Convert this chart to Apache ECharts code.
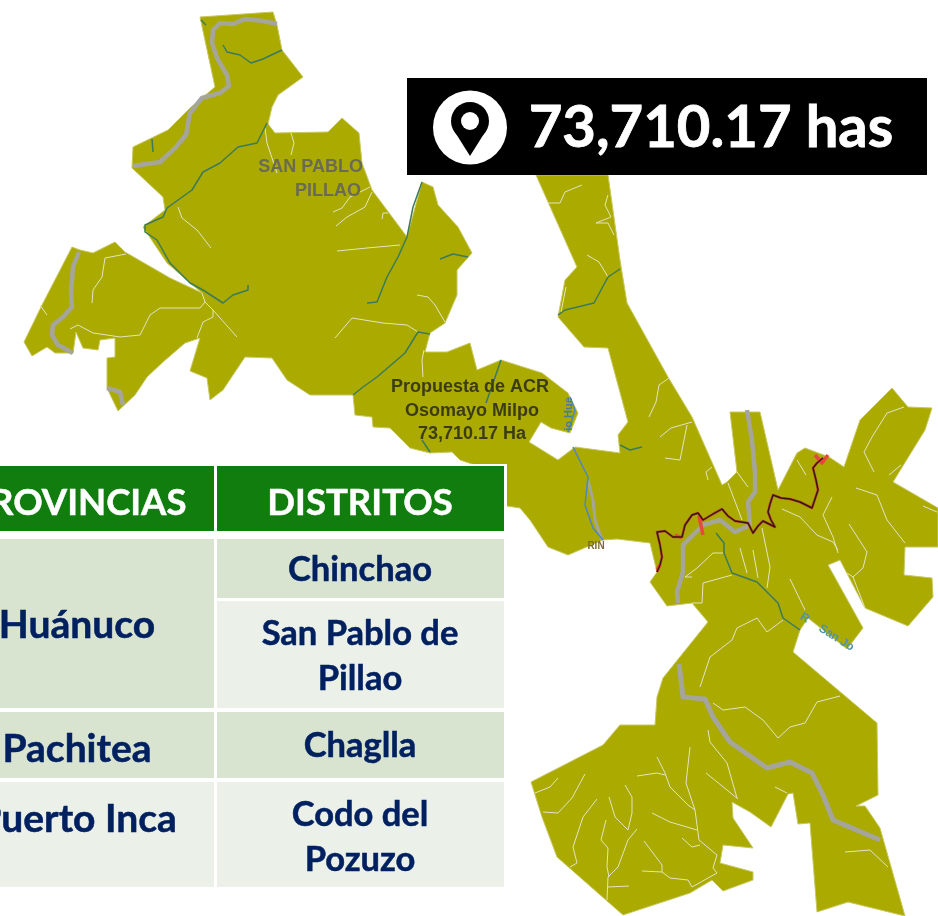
<!DOCTYPE html>
<html>
<head>
<meta charset="utf-8">
<style>html,body{margin:0;padding:0;background:#fff}#chart{width:938px;height:916px}</style>
<script src="https://cdn.jsdelivr.net/npm/echarts@6/dist/echarts.min.js"></script>
</head>
<body>
<div id="chart"></div>
<script>
var areaLabel = "73,710.17 has";
var tableHeader = ["PROVINCIAS", "DISTRITOS"];
var provincias = ["Huánuco", "Pachitea", "Puerto Inca"];
var distritos = ["Chinchao", "San Pablo de\nPillao", "Chaglla", "Codo del\nPozuzo"];

// region outline (x, y in image pixels)
var outline = [[200,17],[273,12],[277,25],[282,50],[303,77],[278,95],[272,107],[268,124],[275,133],[328,132],[342,118],[359,133],[362,163],[372,190],[407,237],[422,182],[433,187],[438,205],[458,227],[472,253],[457,270],[457,295],[445,323],[430,333],[425,352],[447,352],[470,343],[477,370],[501,360],[542,373],[568,393],[578,413],[570,433],[551,428],[541,422],[529,442],[558,460],[575,447],[620,453],[618,435],[628,422],[608,348],[584,347],[558,317],[565,280],[577,267],[536,175],[608,175],[620,260],[627,303],[668,377],[692,417],[722,485],[727,482],[737,472],[730,412],[760,412],[778,490],[797,453],[805,448],[829,457],[844,467],[860,420],[892,388],[908,407],[932,408],[925,430],[893,482],[938,508],[938,547],[905,547],[904,575],[932,578],[933,597],[908,626],[865,608],[840,560],[828,565],[863,628],[847,649],[808,618],[800,630],[793,652],[877,723],[878,795],[856,806],[865,806],[880,828],[905,916],[848,902],[817,912],[810,823],[798,824],[793,793],[788,794],[771,827],[750,812],[732,802],[733,818],[753,848],[723,845],[720,863],[753,872],[753,880],[723,891],[712,880],[690,893],[623,915],[557,857],[542,817],[531,782],[603,745],[620,725],[655,725],[657,697],[663,678],[708,622],[692,603],[667,606],[650,582],[657,572],[650,543],[617,539],[603,540],[568,555],[548,547],[530,520],[520,508],[500,505],[475,465],[460,460],[452,452],[430,453],[410,448],[390,428],[373,427],[372,417],[355,415],[353,395],[310,395],[287,380],[272,358],[245,357],[223,390],[210,400],[207,378],[190,371],[200,338],[185,343],[163,362],[147,377],[135,395],[118,411],[107,388],[107,358],[115,357],[115,338],[100,340],[98,350],[83,348],[76,332],[73,353],[55,353],[47,347],[32,356],[24,342],[42,305],[72,247],[80,250],[93,253],[115,242],[125,252],[170,278],[202,293],[167,263],[143,227],[165,210],[163,197],[132,168],[133,147],[168,130],[190,108],[215,87]];

var greyRivers = [
  [[277,24],[263,21],[245,19],[233,24],[220,23],[213,30],[212,43],[217,58],[227,75],[229,86],[220,93],[202,98],[190,113],[186,135],[175,148],[160,162],[133,166]],
  [[79,252],[73,267],[71,293],[72,307],[63,317],[53,325],[52,335],[58,345],[73,353]],
  [[107,388],[120,392],[123,405]],
  [[747,410],[752,440],[755,473],[755,492],[748,502],[750,525],[735,532],[720,520],[703,525],[683,545],[683,572],[677,592],[678,603]],
  [[588,480],[593,500],[595,520],[602,540]],
  [[679,664],[683,697],[705,699],[713,717],[730,742],[767,768],[790,762],[812,773],[823,795],[833,820],[880,840]]
];
var greenRivers = [
  [[223,45],[227,52],[240,55],[251,63],[263,59],[282,50]],
  [[201,20],[206,25]],
  [[152,139],[153,152]],
  [[267,123],[257,143],[238,147],[220,163],[203,172],[192,190],[167,208],[163,217],[145,225],[145,232],[157,240],[170,263],[190,283],[203,290],[223,303],[233,295],[248,290],[248,285]],
  [[422,182],[413,207],[407,237],[398,257],[387,277],[377,302],[367,303]],
  [[440,259],[453,254],[468,257]],
  [[430,334],[418,332],[405,353],[377,377],[363,387],[353,395]],
  [[422,440],[430,452]],
  [[620,269],[608,277],[594,303],[565,310],[558,315]],
  [[501,360],[486,403]],
  [[620,445],[630,450],[642,447]],
  [[716,533],[724,543],[724,553],[732,573],[757,582],[778,603],[783,618],[800,630]]
];
var blueRivers = [
  [[573,447],[588,477],[585,505],[593,528],[603,540]],
  [[570,397],[575,410],[568,432]]
];
var whiteRivers = [
  [[265,128],[267,143],[277,173]],
  [[291,133],[294,143],[291,155]],
  [[370,187],[350,197],[342,208],[333,212]],
  [[372,192],[365,207],[347,217],[336,226]],
  [[388,213],[383,213],[382,219]],
  [[337,251],[367,248],[400,245]],
  [[178,207],[182,218],[197,230],[211,248]],
  [[126,254],[105,258],[102,277],[93,290],[92,303]],
  [[40,305],[47,315]],
  [[70,329],[78,325],[93,333],[107,335],[120,337],[140,335],[150,315],[160,308],[200,308],[205,302],[202,293]],
  [[205,302],[213,310],[237,337]],
  [[213,310],[213,317],[203,322],[197,338]],
  [[417,295],[428,297],[435,305],[445,322]],
  [[335,338],[352,318],[383,323],[407,325],[418,332]],
  [[424,350],[422,360],[423,377]],
  [[582,185],[565,192],[560,203],[548,203]],
  [[608,195],[605,205],[611,217],[596,223],[608,223],[614,235]],
  [[587,255],[599,262],[608,277]],
  [[566,287],[561,312]],
  [[669,378],[659,385],[656,402],[649,417]],
  [[692,422],[671,428],[660,437]],
  [[687,425],[680,460],[665,458]],
  [[712,467],[706,472],[708,480]],
  [[904,407],[887,413],[872,437],[864,452],[874,472]],
  [[901,465],[889,475]],
  [[728,483],[742,520]],
  [[737,472],[748,487]],
  [[797,460],[806,475]],
  [[856,488],[877,495],[887,520],[905,543]],
  [[937,512],[923,506]],
  [[782,509],[800,517],[817,535],[833,542],[838,550]],
  [[832,497],[823,515],[833,537],[838,553]],
  [[849,524],[867,552],[863,568],[853,577],[865,608]],
  [[847,573],[853,577]],
  [[762,528],[770,567],[767,588]],
  [[740,548],[747,573]],
  [[753,550],[758,578]],
  [[790,579],[805,610]],
  [[723,553],[713,553],[697,568],[685,577],[692,577]],
  [[732,575],[703,583],[702,603],[692,603]],
  [[700,687],[710,657],[732,640],[737,628],[757,618],[767,632],[783,620]],
  [[713,703],[723,710],[745,707],[763,720],[778,738],[790,727],[805,723],[817,702],[840,696]],
  [[708,730],[710,742],[727,763],[737,798]],
  [[775,787],[787,793]],
  [[845,852],[870,850],[888,867]],
  [[535,793],[550,787],[558,778]],
  [[543,812],[558,813],[572,798],[585,774]],
  [[597,799],[583,817],[573,847],[577,863],[570,867]],
  [[609,797],[615,817],[628,830],[632,813],[632,797],[625,785]],
  [[637,829],[628,840],[618,867],[608,877],[607,900]],
  [[606,820],[601,840],[608,848],[607,867],[609,877]],
  [[608,887],[629,886]],
  [[657,757],[665,773],[670,787],[688,805],[695,810]],
  [[637,776],[657,773],[665,775]],
  [[690,747],[686,783],[695,810],[699,840],[717,855],[713,868],[717,873],[692,887]],
  [[652,813],[670,822],[697,830]],
  [[682,838],[692,847],[700,845]],
  [[644,841],[662,865],[662,872],[670,878],[688,880],[692,887]],
  [[642,871],[662,872]],
  [[706,773],[727,790],[738,799]]
];
var boundary = [[657,572],[660,565],[662,557],[660,545],[657,532],[665,531],[673,537],[682,537],[685,525],[692,515],[698,513],[703,520],[713,514],[722,509],[728,516],[735,521],[748,523],[753,533],[758,526],[763,521],[775,527],[771,520],[768,512],[770,504],[773,495],[781,498],[790,499],[800,502],[812,508],[815,499],[818,490],[816,480],[813,468],[817,463],[823,458]];
var boundaryRed = [
  [[657,570],[660,565]],
  [[675,535],[682,538]],
  [[699,516],[703,535]],
  [[815,455],[822,463],[828,455]]
];

function lineSeries(name, rows, color, width) {
  return rows.map(function (r) {
    return {
      name: name, type: "line", data: r, showSymbol: false, silent: true, animation: false, z: 3,
      lineStyle: { color: color, width: width, cap: "butt", join: "round" }
    };
  });
}

var series = [ {
  name: "area", type: "custom", data: outline, silent: true, animation: false, z: 2,
  renderItem: function (params, api) {
    if (params.dataIndex !== 0) return null;
    return {
      type: "polygon",
      shape: { points: outline.map(function (p) { return api.coord(p); }) },
      style: { fill: "#aaaa00", stroke: "#c8c860", lineWidth: 1 }
    };
  }
} ];
series = series.concat(
  lineSeries("whiteRivers", whiteRivers, "#e4e4c0", 1),
  lineSeries("greyRivers", greyRivers.slice(0, 4), "#a5a59c", 4.5),
  lineSeries("greyRivers", greyRivers.slice(4, 5), "#a5a59c", 3),
  lineSeries("greyRivers", greyRivers.slice(5), "#a5a59c", 5),
  lineSeries("greenRivers", greenRivers, "#3c7a5c", 1.5),
  lineSeries("blueRivers", blueRivers, "#4f86c0", 1.5),
  lineSeries("boundaryEdge", [boundary], "#b8502c", 2.6),
  lineSeries("boundaryRed", boundaryRed, "#e8483c", 3.5),
  lineSeries("boundary", [boundary], "#3a1410", 1.4)
);

// table layout
var COL1 = [-30, 214], COL2 = [217, 504];
var rowDark = "#d8e3d0", rowLight = "#ebf0e9", navy = "#002060";
var FONT = "Lato, 'Open Sans', sans-serif";

function cell(col, y0, y1, fill) {
  return { type: "rect", z: 11, silent: true, shape: { x: col[0], y: y0, width: col[1] - col[0], height: y1 - y0 }, style: { fill: fill } };
}
function cellText(t, x, y, size, color, lh) {
  return { type: "text", z: 12, silent: true, x: x, y: y, style: { text: t, fill: color, stroke: color, lineWidth: 0.5, font: "bold " + size + "px " + FONT, align: "center", verticalAlign: "middle", lineHeight: lh || size } };
}
function mapText(t, x, y, size, color, align, rot) {
  return { type: "text", z: 6, silent: true, x: x, y: y, rotation: rot || 0, style: { text: t, fill: color, font: "bold " + size + "px 'Liberation Sans', Arial, sans-serif", align: align || "center", verticalAlign: "middle" } };
}

var C1 = 77, C2 = 360, HEAD = 36.5, BODY = 34.5, PROV = 39;
var graphic = [
  mapText("SAN PABLO", 363, 167, 18, "#6b6b55", "right"),
  mapText("PILLAO", 361, 191, 18, "#6b6b55", "right"),
  mapText("Propuesta de ACR", 470, 387, 18, "#3c3c14"),
  mapText("Osomayo Milpo", 472, 411, 18, "#3c3c14"),
  mapText("73,710.17 Ha", 472, 434, 18, "#3c3c14"),
  mapText("RIN", 596, 546, 10, "#7c6a2c"),
  mapText("io Hue", 569, 414, 11, "#4a7f8c", "center", Math.PI / 2),
  mapText("R    San Jo", 827, 632, 12, "#4f93b0", "center", -Math.PI / 5.6),
  { type: "rect", z: 10, silent: true, shape: { x: -10, y: 464, width: 517, height: 426 }, style: { fill: "#fff" } },
  cell(COL1, 466, 531, "#117d0f"), cell(COL2, 466, 531, "#117d0f"),
  cell(COL1, 539, 708, rowDark), cell(COL2, 539, 598, rowDark), cell(COL2, 601, 708, rowLight),
  cell(COL1, 712, 778, rowDark), cell(COL2, 712, 778, rowDark),
  cell(COL1, 782, 887, rowLight), cell(COL2, 782, 887, rowLight),
  cellText(tableHeader[0], C1, 503, HEAD, "#fff"),
  cellText(tableHeader[1], C2, 503, HEAD, "#fff"),
  cellText(provincias[0], C1, 625, PROV, navy),
  cellText(provincias[1], C1, 749, PROV, navy),
  cellText(provincias[2], C1, 819, PROV, navy),
  cellText(distritos[0], C2, 570, BODY, navy),
  cellText(distritos[1], C2, 656, BODY, navy, 45),
  cellText(distritos[2], C2, 746, BODY, navy),
  cellText(distritos[3], C2, 837, BODY, navy, 45),
  { type: "rect", z: 20, silent: true, shape: { x: 407, y: 78, width: 520, height: 97 }, style: { fill: "#000" } },
  { type: "circle", z: 21, silent: true, shape: { cx: 470, cy: 127.5, r: 37 }, style: { fill: "#fff" } },
  { type: "polygon", z: 22, silent: true, shape: { points: [[453, 129], [470, 156], [487, 129]] }, style: { fill: "#000" } },
  { type: "circle", z: 22, silent: true, shape: { cx: 470, cy: 121, r: 19 }, style: { fill: "#000" } },
  { type: "circle", z: 23, silent: true, shape: { cx: 470, cy: 121, r: 9 }, style: { fill: "#fff" } },
  { type: "text", z: 23, silent: true, x: 711, y: 128, style: { text: areaLabel, fill: "#fff", stroke: "#fff", lineWidth: 0.8, font: "bold 58px " + FONT, align: "center", verticalAlign: "middle" } }
];

var chart = echarts.init(document.getElementById("chart"));
chart.setOption({
  backgroundColor: "#fff",
  animation: false,
  grid: { left: 0, right: 0, top: 0, bottom: 0 },
  xAxis: { type: "value", min: 0, max: 938, show: false },
  yAxis: { type: "value", min: 0, max: 916, inverse: true, show: false },
  series: series,
  graphic: graphic
});
</script>
</body>
</html>
